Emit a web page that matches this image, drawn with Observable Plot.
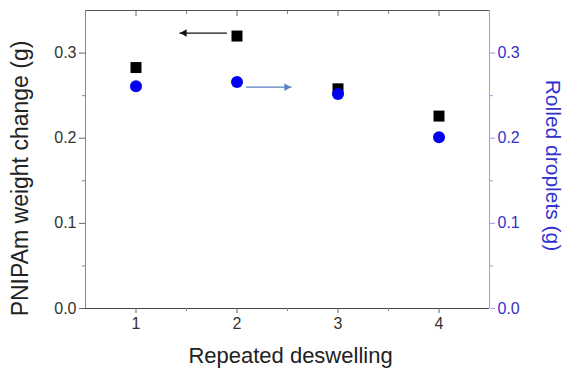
<!DOCTYPE html>
<html>
<head>
<meta charset="utf-8">
<script src="https://cdn.jsdelivr.net/npm/d3@7"></script>
<script src="https://cdn.jsdelivr.net/npm/@observablehq/plot@0.6"></script>
<style>
  body { margin: 0; background: #fff; }
  #chart svg { font-family: "Liberation Sans", Arial, sans-serif; }
</style>
</head>
<body>
<div id="chart"></div>
<script>
const cycles = [1, 2, 3, 4];
const weightChange = [0.283, 0.320, 0.258, 0.226];
const rolledDroplets = [0.261, 0.266, 0.252, 0.201];

const xTicks = [1, 2, 3, 4];
const xMinor = [1.5, 2.5, 3.5];
const yTicks = [0, 0.1, 0.2, 0.3];
const yMinor = [0.05, 0.15, 0.25];

// annotation arrows (data units)
const arrowBlack = {x1: 1.9, x2: 1.43, y: 0.3235};
const arrowBlue = {x1: 2.09, x2: 2.54, y: 0.260};

const xTitle = "Repeated deswelling";
const yLeftTitle = "PNIPAm weight change (g)";
const yRightTitle = "Rolled droplets (g)";

const sq = cycles.map((c, i) => ({x: c, y: weightChange[i]}));
const ci = cycles.map((c, i) => ({x: c, y: rolledDroplets[i]}));

const blueTxt = "#3232cc";
const blueLine = "#9e9ee2";
const grayTxt = "#333";

const plot = Plot.plot({
  width: 565,
  height: 372,
  marginLeft: 85,
  marginRight: 76,
  marginTop: 10,
  marginBottom: 64,
  style: {fontFamily: "Liberation Sans, Arial, sans-serif", background: "#fff"},
  x: {domain: [0.5, 4.5]},
  y: {domain: [0, 0.35]},
  marks: [
    // frame lines
    Plot.ruleY([0], {stroke: "#444"}),
    Plot.ruleY([0.35], {stroke: "#555"}),
    Plot.ruleX([0.5], {stroke: "#888"}),
    Plot.ruleX([4.5], {stroke: blueLine}),
    // left axis
    Plot.axisY(yTicks, {anchor: "left", tickSize: 6, tickPadding: 3, tickFormat: d3.format(".1f"), fontSize: 16, color: grayTxt, stroke: "#666", label: null}),
    Plot.axisY(yMinor, {anchor: "left", tickSize: 3, tickFormat: () => "", stroke: "#888", label: null}),
    // right axis
    Plot.axisY(yTicks, {anchor: "right", tickSize: 5, tickPadding: 3, tickFormat: d3.format(".1f"), fontSize: 16, fill: blueTxt, stroke: blueLine, label: null}),
    Plot.axisY(yMinor, {anchor: "right", tickSize: 3, tickFormat: () => "", stroke: blueLine, label: null}),
    // bottom axis
    Plot.axisX(xTicks, {anchor: "bottom", tickSize: 5, tickPadding: 4, tickFormat: d3.format("d"), fontSize: 16, color: grayTxt, stroke: "#666", label: null}),
    Plot.axisX(xMinor, {anchor: "bottom", tickSize: 3, tickFormat: () => "", stroke: "#888", label: null}),
    // top inward ticks
    Plot.axisX(xTicks, {anchor: "top", tickSize: 5, dy: 5, tickFormat: () => "", stroke: "#666", label: null}),
    Plot.axisX(xMinor, {anchor: "top", tickSize: 3, dy: 3, tickFormat: () => "", stroke: "#888", label: null}),
    // data
    Plot.dot(sq, {x: "x", y: "y", symbol: "square", r: 6.2, fill: "#000", stroke: "none"}),
    Plot.dot(ci, {x: "x", y: "y", symbol: "circle", r: 6, fill: "#0000ee", stroke: "none"}),
    // arrows
    Plot.link([arrowBlack], {x1: "x1", x2: "x2", y1: "y", y2: "y", stroke: "#111", strokeWidth: 1.3}),
    Plot.dot([arrowBlack], {x: "x2", y: "y", symbol: "triangle2", r: 3.6, rotate: -90, dx: 5, fill: "#111", stroke: "none"}),
    Plot.link([arrowBlue], {x1: "x1", x2: "x2", y1: "y", y2: "y", stroke: "#5b80c4", strokeWidth: 1.3}),
    Plot.dot([arrowBlue], {x: "x2", y: "y", symbol: "triangle2", r: 3.6, rotate: 90, dx: -5, fill: "#5b80c4", stroke: "none"}),
    // titles
    Plot.text([xTitle], {text: d => d, frameAnchor: "bottom", dy: 47, dx: 3, fontSize: 22, fill: "#222", textAnchor: "middle", lineAnchor: "middle"}),
    Plot.text([yLeftTitle], {text: d => d, frameAnchor: "left", dx: -65, dy: 19, rotate: -90, fontSize: 23, fill: "#222", textAnchor: "middle", lineAnchor: "middle"}),
    Plot.text([yRightTitle], {text: d => d, frameAnchor: "right", dx: 63, dy: 6, rotate: 90, fontSize: 21, fill: blueTxt, textAnchor: "middle", lineAnchor: "middle"})
  ]
});
document.getElementById("chart").appendChild(plot);
</script>
</body>
</html>
